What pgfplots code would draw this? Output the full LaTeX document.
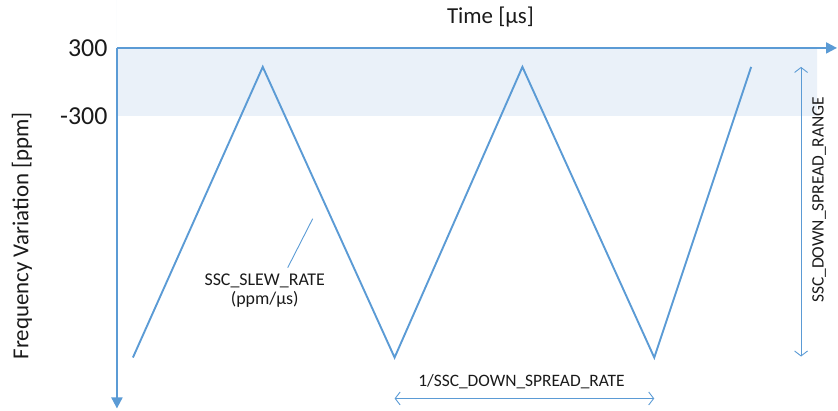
\documentclass[border=0pt]{standalone}
\usepackage{fontspec}
\setmainfont{Carlito}
\usepackage{pgfplots}
\pgfplotsset{compat=1.18}
\usetikzlibrary{arrows.meta}
\definecolor{ln}{HTML}{5B9BD5}
\definecolor{band}{HTML}{EAF1F9}
\definecolor{txt}{HTML}{1A1A1A}
\begin{document}
\begin{tikzpicture}
\begin{axis}[
  scale only axis, width=838bp, height=411bp,
  xmin=0, xmax=838, ymin=0, ymax=411, y dir=reverse,
  axis line style={draw=none}, clip=false,
  xtick=\empty, ytick={48,116}, yticklabels={300,-300},
  major tick length=0pt,
  /pgf/number format/assume math mode=true,
  yticklabel style={anchor=east, xshift=111bp, font=\fontsize{26}{26}\selectfont, text=txt},
]
% band
\addplot[draw=none, fill=band] coordinates {(117,48) (818,48) (818,116) (117,116)} \closedcycle;
% axes
\addplot[ln, line width=2bp, -{Triangle[length=11bp,width=11bp]}] coordinates {(117,48) (838,48)};
\addplot[ln, line width=2bp, -{Triangle[length=11bp,width=11bp]}] coordinates {(117,48) (117,409)};
% triangle wave
\addplot[ln, line width=1.9bp, line join=miter] coordinates {(133,358) (263,67) (395,358) (523,67) (655,358) (752,67)};
% leader line
\addplot[ln, line width=0.9bp] coordinates {(313,219) (288,268)};
% dimension arrows
\addplot[ln, line width=0.9bp, {Straight Barb[length=5bp,width=13bp]}-{Straight Barb[length=5bp,width=13bp]}] coordinates {(395,399) (655,399)};
\addplot[ln, line width=0.9bp, {Straight Barb[length=5bp,width=13bp]}-{Straight Barb[length=5bp,width=13bp]}] coordinates {(802,67) (802,357)};
% texts
\node[text=txt, font=\fontsize{23}{23}\selectfont] at (axis cs:491,17) {Time [µs]};
\node[text=txt, font=\fontsize{23}{23}\selectfont, rotate=90] at (axis cs:22,236) {Frequency Variation [ppm]};
\node[text=txt, font=\fontsize{18}{18}\selectfont, align=center, inner sep=0pt] at (axis cs:265,291) {SSC\_SLEW\_RATE\\[1bp](ppm/µs)};
\node[text=txt, font=\fontsize{17.5}{17.5}\selectfont] at (axis cs:522,382) {1/SSC\_DOWN\_SPREAD\_RATE};
\node[text=txt, font=\fontsize{17.5}{17.5}\selectfont, rotate=90] at (axis cs:820,200) {SSC\_DOWN\_SPREAD\_RANGE};
\end{axis}
\end{tikzpicture}
\end{document}
